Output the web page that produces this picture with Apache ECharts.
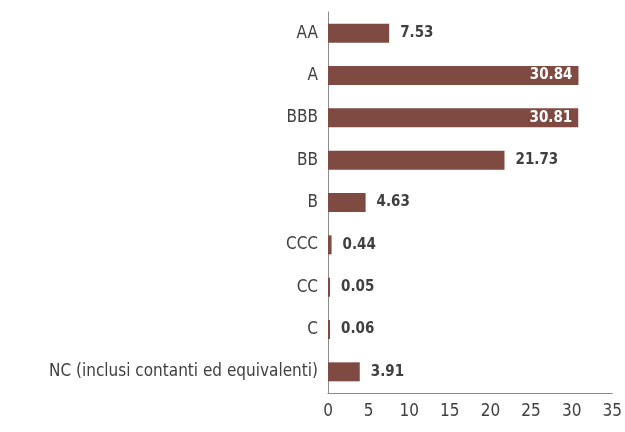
<!DOCTYPE html>
<html>
<head>
<meta charset="utf-8">
<script src="https://cdn.jsdelivr.net/npm/echarts@6/dist/echarts.min.js"></script>
<style>
html, body { margin: 0; padding: 0; background: #fff; }
#chart { width: 625px; height: 432px; }
</style>
</head>
<body>
<div id="chart"></div>
<script>
const categories = ['AA', 'A', 'BBB', 'BB', 'B', 'CCC', 'CC', 'C', 'NC (inclusi contanti ed equivalenti)'];
const values = [7.53, 30.84, 30.81, 21.73, 4.63, 0.44, 0.05, 0.06, 3.91];
const insideLabels = ['A', 'BBB'];

const font = '"Liberation Sans Narrow", "DejaVu Sans Condensed", "Noto Sans", sans-serif';
const myChart = echarts.init(document.getElementById('chart'));

const data = values.map((v, i) => {
    const inside = insideLabels.includes(categories[i]);
    return {
        value: v,
        label: inside ? {position: 'insideRight', color: '#fff', distance: 6} : {}
    };
});

const option = {
    animation: false,
    grid: {left: 328, right: 8, top: 12, bottom: 39, containLabel: false},
    xAxis: {
        type: 'value',
        min: 0,
        max: 35,
        interval: 5,
        axisLine: {show: true, lineStyle: {color: '#8c8c8c', width: 1}},
        axisTick: {show: false},
        splitLine: {show: false},
        axisLabel: {color: '#404040', fontSize: 17, fontFamily: font, margin: 10}
    },
    yAxis: {
        type: 'category',
        inverse: true,
        data: categories,
        axisLine: {show: true, lineStyle: {color: '#8c8c8c', width: 1}},
        axisTick: {show: false},
        axisLabel: {color: '#404040', fontSize: 17, fontFamily: font, margin: 10}
    },
    series: [{
        type: 'bar',
        data: data,
        barWidth: 19,
        barMinHeight: 2,
        itemStyle: {color: '#7e4a41'},
        label: {
            show: true,
            position: 'right',
            distance: 11,
            color: '#404040',
            fontWeight: 'bold',
            fontSize: 15,
            fontFamily: font,
            formatter: p => p.value.toFixed(2)
        }
    }]
};

option && myChart.setOption(option);
</script>
</body>
</html>
